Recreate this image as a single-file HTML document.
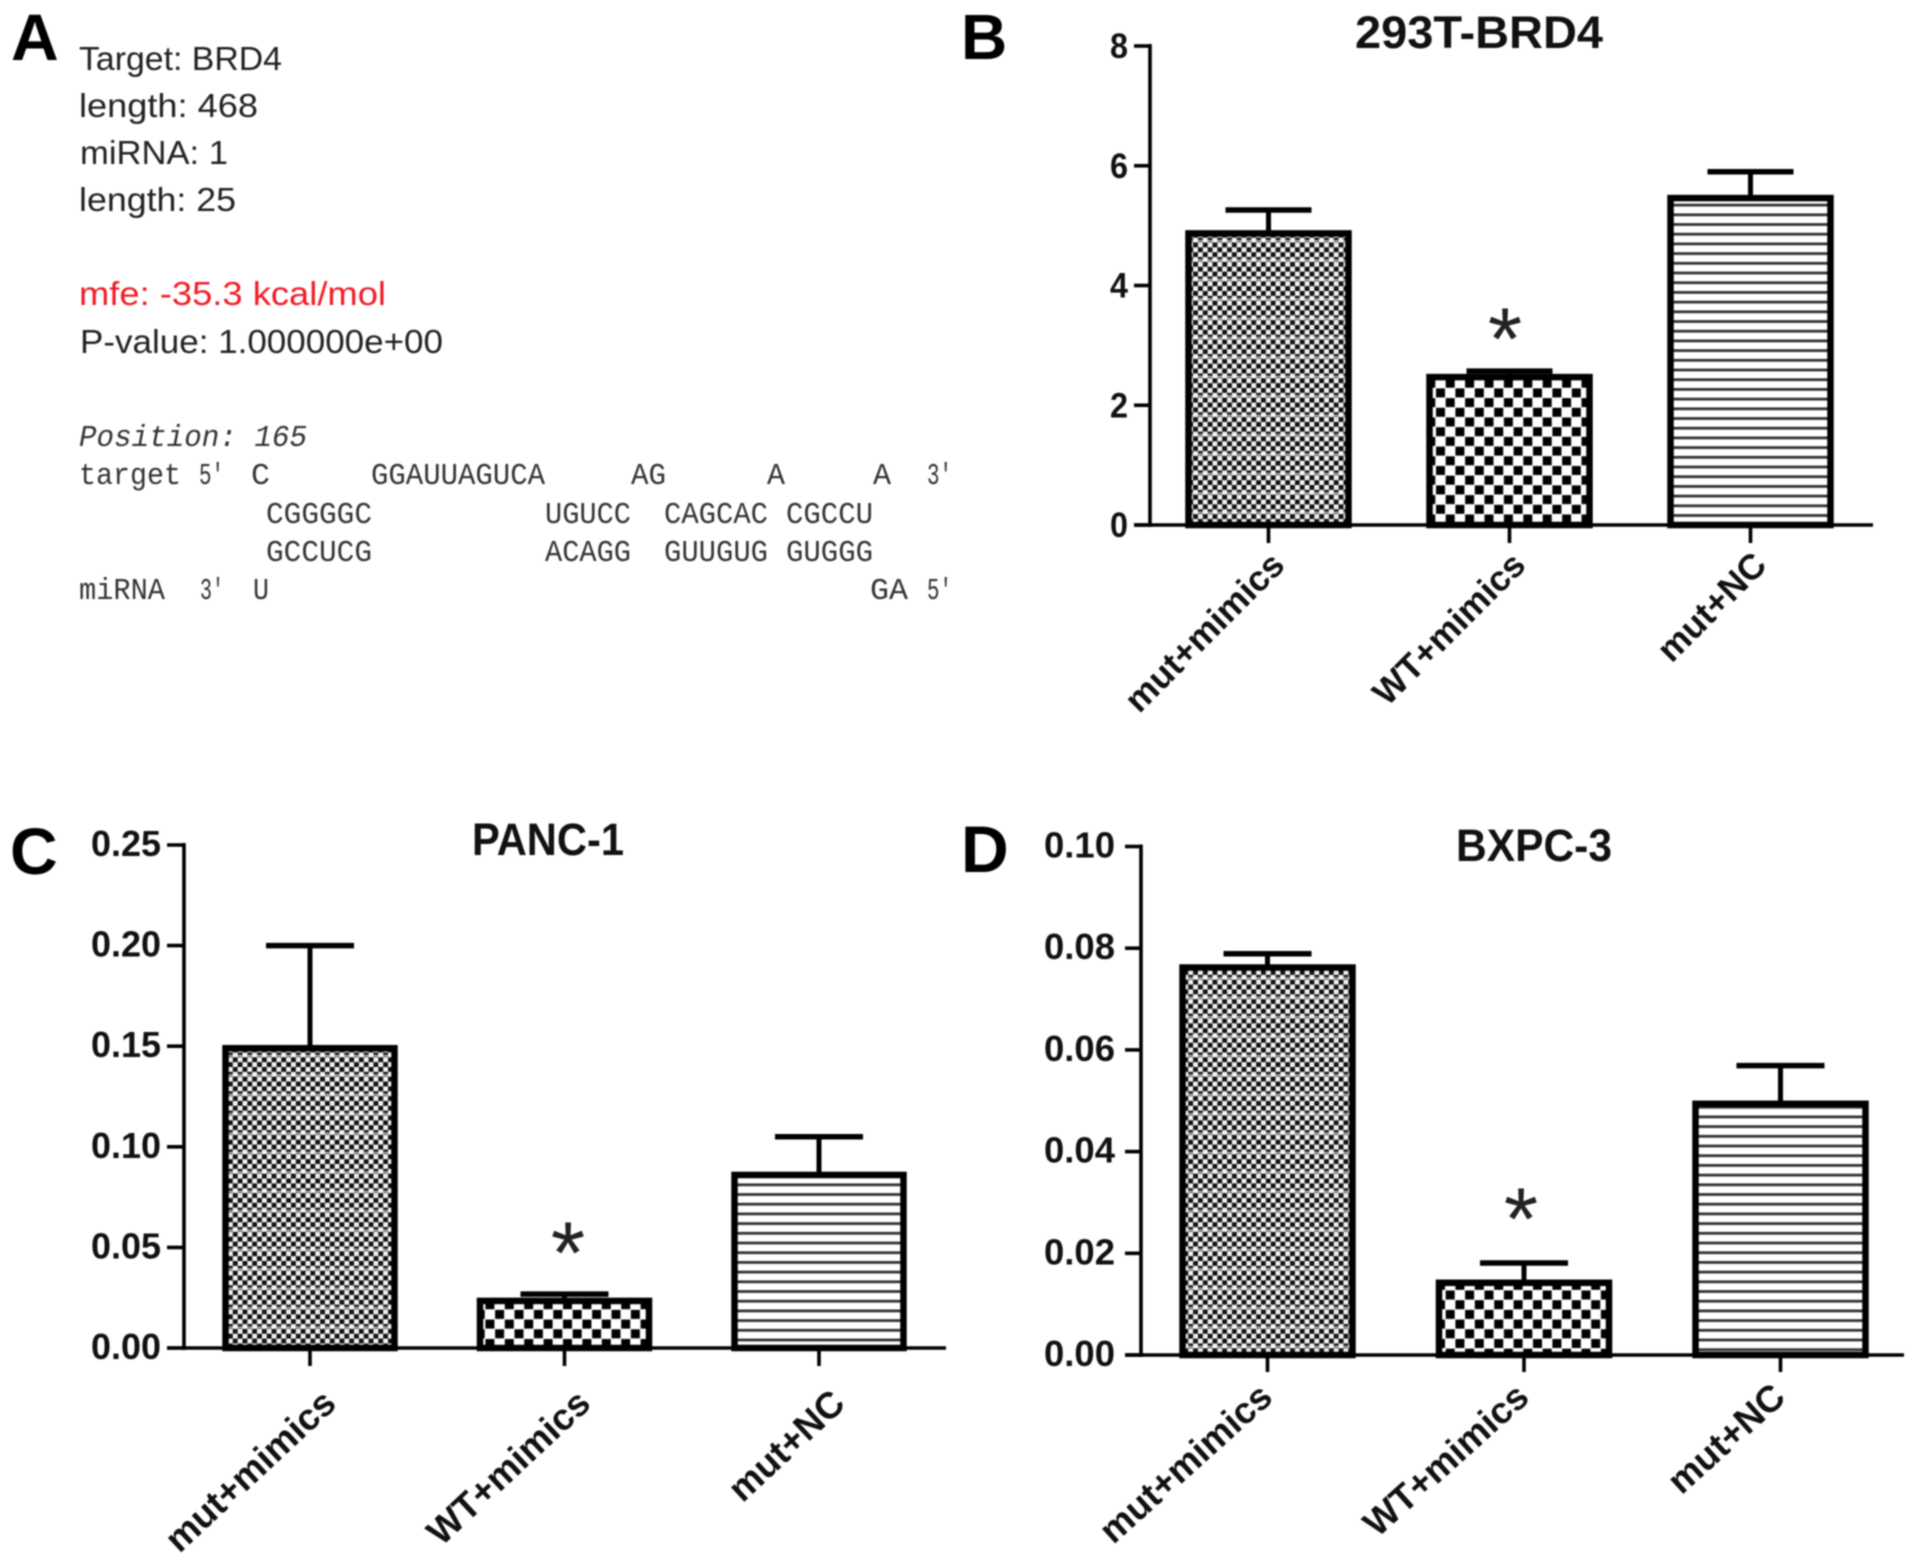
<!DOCTYPE html>
<html lang="en">
<head>
<meta charset="utf-8">
<title>BRD4 miRNA target and luciferase assay panels</title>
<style>
html,body{margin:0;padding:0;background:#fff;width:1913px;height:1566px;overflow:hidden}
svg{display:block;filter:blur(.7px)}
.sans{font-family:"Liberation Sans",Arial,sans-serif}
.info{font-size:33px;fill:#222}
.mono{font-family:"Liberation Mono",monospace;font-size:31px;fill:#333}
.letter{font-family:"Liberation Sans",Arial,sans-serif;font-weight:700;fill:#000}
</style>
</head>
<body>
<svg id="figure" xmlns="http://www.w3.org/2000/svg" width="1913" height="1566" viewBox="0 0 1913 1566">
<defs>
<pattern id="fill-dense" patternUnits="userSpaceOnUse" width="9.7" height="19.4">
<rect width="9.7" height="19.4" fill="#f2f2f2"/>
<rect x="0" y="0" width="4.85" height="4.85" fill="#111"/>
<rect x="4.85" y="4.85" width="4.85" height="4.85" fill="#111"/>
<rect x="0" y="9.7" width="4.85" height="4.85" fill="#111"/>
<rect x="4.85" y="14.55" width="4.85" height="4.85" fill="#111"/>
<rect x="0" y="7" width="9.7" height="2.4" fill="#fff" opacity=".55"/>
</pattern>
<pattern id="fill-check" patternUnits="userSpaceOnUse" width="19.4" height="19.4">
<rect width="19.4" height="19.4" fill="#fff"/>
<rect x=".4" y=".4" width="9" height="9" fill="#000"/>
<rect x="10.1" y="10.1" width="9" height="9" fill="#000"/>
</pattern>
<pattern id="fill-stripe" patternUnits="userSpaceOnUse" width="10" height="9.7">
<rect width="10" height="9.7" fill="#fff"/>
<rect y="0" width="10" height="2.8" fill="#333"/>
</pattern>
</defs>
<rect width="1913" height="1566" fill="#fff"/>

<g>
<text class="letter" x="11" y="60" font-size="66">A</text>
<g class="sans info">
<text x="79" y="70" textLength="203" lengthAdjust="spacingAndGlyphs">Target: BRD4</text>
<text x="79" y="117" textLength="179" lengthAdjust="spacingAndGlyphs">length: 468</text>
<text x="80" y="164" textLength="148" lengthAdjust="spacingAndGlyphs">miRNA: 1</text>
<text x="79" y="211" textLength="157" lengthAdjust="spacingAndGlyphs">length: 25</text>
<text x="79" y="305" textLength="307" lengthAdjust="spacingAndGlyphs" style="fill:#f01c24">mfe: -35.3 kcal/mol</text>
<text x="80" y="353" textLength="363" lengthAdjust="spacingAndGlyphs">P-value: 1.000000e+00</text>
</g>
<g class="mono">
<text x="79" y="446" textLength="228" lengthAdjust="spacingAndGlyphs" font-style="italic">Position: 165</text>
<g>
<text x="79" y="484" textLength="102" lengthAdjust="spacingAndGlyphs">target</text>
<text x="199" y="484" textLength="25" lengthAdjust="spacingAndGlyphs">5'</text>
<text x="251" y="484" textLength="19" lengthAdjust="spacingAndGlyphs">C</text>
<text x="371" y="484" textLength="174" lengthAdjust="spacingAndGlyphs">GGAUUAGUCA</text>
<text x="631" y="484" textLength="35" lengthAdjust="spacingAndGlyphs">AG</text>
<text x="767" y="484" textLength="18" lengthAdjust="spacingAndGlyphs">A</text>
<text x="873" y="484" textLength="18" lengthAdjust="spacingAndGlyphs">A</text>
<text x="927" y="484" textLength="25" lengthAdjust="spacingAndGlyphs">3'</text>
</g>
<g>
<text x="266" y="523" textLength="106" lengthAdjust="spacingAndGlyphs">CGGGGC</text>
<text x="545" y="523" textLength="86" lengthAdjust="spacingAndGlyphs">UGUCC</text>
<text x="664" y="523" textLength="104" lengthAdjust="spacingAndGlyphs">CAGCAC</text>
<text x="786" y="523" textLength="87" lengthAdjust="spacingAndGlyphs">CGCCU</text>
</g>
<g>
<text x="266" y="561" textLength="106" lengthAdjust="spacingAndGlyphs">GCCUCG</text>
<text x="545" y="561" textLength="86" lengthAdjust="spacingAndGlyphs">ACAGG</text>
<text x="664" y="561" textLength="104" lengthAdjust="spacingAndGlyphs">GUUGUG</text>
<text x="786" y="561" textLength="87" lengthAdjust="spacingAndGlyphs">GUGGG</text>
</g>
<g>
<text x="79" y="599" textLength="86" lengthAdjust="spacingAndGlyphs">miRNA</text>
<text x="200" y="599" textLength="24" lengthAdjust="spacingAndGlyphs">3'</text>
<text x="253" y="599" textLength="16" lengthAdjust="spacingAndGlyphs">U</text>
<text x="870" y="599" textLength="38" lengthAdjust="spacingAndGlyphs">GA</text>
<text x="927" y="599" textLength="25" lengthAdjust="spacingAndGlyphs">5'</text>
</g>
</g>
</g>
<text class="letter" x="961" y="59" font-size="64">B</text>
<text class="letter" x="10" y="874" font-size="66">C</text>
<text class="letter" x="961" y="872" font-size="66">D</text>
</svg>

<script>
// Shared categories
const categories = ['mut+mimics', 'WT+mimics', 'mut+NC'];

// Panel B: 293T-BRD4
const bValues = [4.87, 2.47, 5.46];
const bErrors = [0.39, 0.10, 0.44];
const bTicks = [0, 2, 4, 6, 8];
const bTickLabels = ['0', '2', '4', '6', '8'];

// Panel C: PANC-1
const cValues = [0.149, 0.0234, 0.086];
const cErrors = [0.051, 0.0034, 0.019];
const cTicks = [0, 0.05, 0.10, 0.15, 0.20, 0.25];
const cTickLabels = ['0.00', '0.05', '0.10', '0.15', '0.20', '0.25'];

// Panel D: BXPC-3
const dValues = [0.0762, 0.0142, 0.0494];
const dErrors = [0.0027, 0.0039, 0.0075];
const dTicks = [0, 0.02, 0.04, 0.06, 0.08, 0.10];
const dTickLabels = ['0.00', '0.02', '0.04', '0.06', '0.08', '0.10'];

const NS = 'http://www.w3.org/2000/svg';
const root = document.getElementById('figure');
const fills = ['url(#fill-dense)', 'url(#fill-check)', 'url(#fill-stripe)'];

function mk(parent, tag, props) {
  const el = document.createElementNS(NS, tag);
  for (const k in props) el.setAttribute(k, props[k]);
  parent.appendChild(el);
  return el;
}

function drawChart(layout, values, errors, ticks, tickLabels) {
  const g = mk(root, 'g', {});
  
  

  // Axis functions
  const yOf = v => layout.base - (v / layout.max) * (layout.base - layout.top);
  const xOf = i => layout.firstX + i * layout.stepX;
  const sansAttrs = {'font-family': '"Liberation Sans",Arial,sans-serif', 'font-weight': '700', fill: '#111'};

  // Title
  const title = mk(g, 'text', Object.assign({x: layout.titleX, y: layout.titleY, 'font-size': 45, textLength: layout.titleW, lengthAdjust: 'spacingAndGlyphs'}, sansAttrs));
  
  
  title.textContent = layout.title;

  // Bars
  values.forEach((v, i) => {
    const bar = mk(g, 'rect', {x: xOf(i) - layout.barHalf, y: yOf(v), width: layout.barHalf * 2, height: layout.base - yOf(v), fill: fills[i], stroke: '#000', 'stroke-width': 6.5});
    
    
  });

  // Error bars
  values.forEach((v, i) => {
    const hi = yOf(v + errors[i]);
    const stem = mk(g, 'line', {x1: xOf(i), x2: xOf(i), y1: yOf(v), y2: hi, stroke: '#000', 'stroke-width': 5});
    
    
    const cap = mk(g, 'line', {x1: xOf(i) - layout.capHalf, x2: xOf(i) + layout.capHalf, y1: hi, y2: hi, stroke: '#000', 'stroke-width': 5.5});
    
    
  });

  // Axes
  const yAxis = mk(g, 'line', {x1: layout.axisX, x2: layout.axisX, y1: layout.top - 2, y2: layout.base + 2, stroke: '#000', 'stroke-width': 3.6});
  
  
  const xAxis = mk(g, 'line', {x1: layout.tickLeft, x2: layout.axisEnd, y1: layout.base, y2: layout.base, stroke: '#000', 'stroke-width': 3.6});
  
  

  // Y ticks and labels
  ticks.forEach((t, i) => {
    const mark = mk(g, 'line', {x1: layout.tickLeft, x2: layout.axisX, y1: yOf(t), y2: yOf(t), stroke: '#000', 'stroke-width': 3.6});
    
    
    const lab = mk(g, 'text', Object.assign({x: layout.labelRight - layout.labelW, y: yOf(t) + layout.labelDy, 'font-size': layout.labelSize, textLength: layout.labelW, lengthAdjust: 'spacingAndGlyphs'}, sansAttrs));
    
    
    lab.textContent = tickLabels[i];
  });

  // X ticks and rotated labels
  categories.forEach((c, i) => {
    const mark = mk(g, 'line', {x1: xOf(i), x2: xOf(i), y1: layout.base, y2: layout.base + layout.tickLen, stroke: '#000', 'stroke-width': 3.6});
    
    
    const ex = xOf(i) + layout.catDx, ey = layout.base + layout.catDy;
    const lab = mk(g, 'text', Object.assign({x: ex, y: ey, 'font-size': layout.catSize, 'text-anchor': 'end', transform: 'rotate(' + layout.catAngle + ' ' + ex + ' ' + ey + ')'}, sansAttrs));
    
    
    lab.textContent = c;
  });

  // Significance asterisk
  const star = mk(g, 'text', {x: layout.starX, y: layout.starY, 'font-size': 88, 'text-anchor': 'middle', 'font-family': '"Liberation Sans",Arial,sans-serif', fill: '#222'});
  
  
  star.textContent = '*';
}

drawChart({id: 'brd4', title: '293T-BRD4', titleX: 1355, titleY: 48, titleW: 248,
  base: 525, top: 46, max: 8, axisX: 1150, axisEnd: 1873, tickLeft: 1134,
  firstX: 1268.5, stepX: 241, barHalf: 80, capHalf: 43,
  labelRight: 1128, labelW: 18, labelDy: 12, labelSize: 35,
  tickLen: 18, catDx: 18, catDy: 42, catSize: 35.5, catAngle: -45,
  starX: 1505, starY: 369}, bValues, bErrors, bTicks, bTickLabels);

drawChart({id: 'panc1', title: 'PANC-1', titleX: 472, titleY: 855, titleW: 152,
  base: 1348, top: 845, max: 0.25, axisX: 184, axisEnd: 946, tickLeft: 167,
  firstX: 310, stepX: 254.5, barHalf: 84.5, capHalf: 44,
  labelRight: 161, labelW: 70, labelDy: 11, labelSize: 36,
  tickLen: 18, catDx: 28, catDy: 58, catSize: 37, catAngle: -43,
  starX: 568, starY: 1283}, cValues, cErrors, cTicks, cTickLabels);

drawChart({id: 'bxpc3', title: 'BXPC-3', titleX: 1456, titleY: 861, titleW: 156,
  base: 1355, top: 846.5, max: 0.10, axisX: 1141, axisEnd: 1904, tickLeft: 1125,
  firstX: 1267.5, stepX: 256.5, barHalf: 85, capHalf: 44,
  labelRight: 1115, labelW: 71, labelDy: 11, labelSize: 36,
  tickLen: 17, catDx: 7, catDy: 45, catSize: 37, catAngle: -42,
  starX: 1521, starY: 1249}, dValues, dErrors, dTicks, dTickLabels);
</script>
</body>
</html>
